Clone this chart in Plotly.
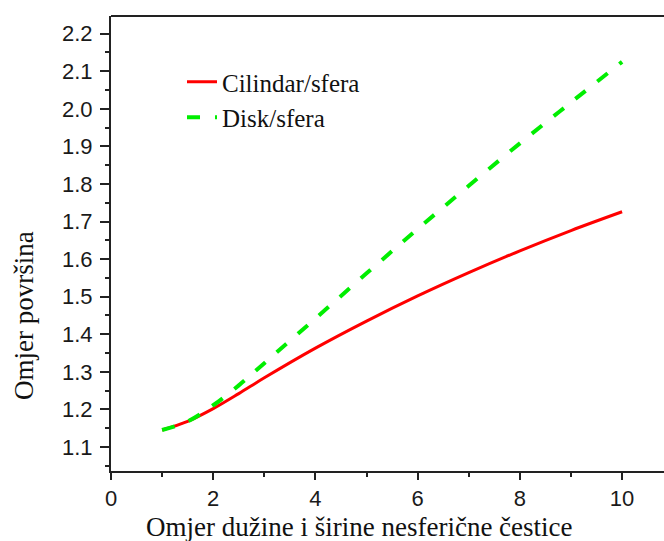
import plotly.graph_objects as go

# Aspect ratio (x) readings
x_vals = [1, 1.5, 2, 2.5, 3, 4, 5, 6, 7, 8, 9, 10]
# Cilindar/sfera surface ratio
cyl_vals = [1.145, 1.168, 1.202, 1.242, 1.284, 1.363, 1.435, 1.502, 1.564, 1.622, 1.676, 1.726]
# Disk/sfera surface ratio
disk_vals = [1.145, 1.168, 1.211, 1.264, 1.323, 1.442, 1.562, 1.680, 1.795, 1.908, 2.017, 2.125]

x_ticks = [0, 2, 4, 6, 8, 10]
y_ticks = [1.1, 1.2, 1.3, 1.4, 1.5, 1.6, 1.7, 1.8, 1.9, 2.0, 2.1, 2.2]

fig = go.Figure()
fig.add_trace(go.Scatter(x=x_vals, y=cyl_vals, mode="lines", name="Cilindar/sfera",
                         line=dict(color="#ff0000", width=3, shape="spline")))
fig.add_trace(go.Scatter(x=x_vals, y=disk_vals, mode="lines", name="Disk/sfera",
                         line=dict(color="#00ee00", width=4, dash="13px,15px", shape="spline")))

tick_font = dict(family="Liberation Sans, Arial, sans-serif", size=22, color="#1a1a1a")
serif = "Liberation Serif, Times New Roman, serif"

fig.update_layout(
    width=664, height=541,
    margin=dict(l=111, r=0, t=16, b=70),
    paper_bgcolor="white", plot_bgcolor="white",
    showlegend=True,
    legend=dict(x=(182 - 111) / 553, y=1 - (59 - 16) / 455, xanchor="left", yanchor="top",
                font=dict(family=serif, size=25, color="#111"),
                bgcolor="rgba(0,0,0,0)", tracegroupgap=0, itemwidth=30),
    xaxis=dict(range=[0, 10.82], tickvals=x_ticks, ticktext=[str(v) for v in x_ticks],
               ticks="outside", ticklen=7, tickwidth=1.5, tickcolor="#222",
               showline=True, linewidth=2, linecolor="#222", mirror=False,
               showgrid=False, zeroline=False, tickfont=tick_font,
               minor=dict(tickvals=[1, 3, 5, 7, 9], ticks="outside", ticklen=4,
                          tickwidth=1.5, tickcolor="#222", showgrid=False)),
    yaxis=dict(range=[1.036, 2.247], tickvals=y_ticks, ticktext=[f"{v:.1f}" for v in y_ticks],
               ticks="outside", ticklen=9, tickwidth=1.5, tickcolor="#222",
               showline=True, linewidth=2, linecolor="#222",
               showgrid=False, zeroline=False, tickfont=tick_font, ticklabelstandoff=3,
               minor=dict(tickvals=[round(1.05 + 0.1 * i, 2) for i in range(12)],
                          ticks="outside", ticklen=4, tickwidth=1.5, tickcolor="#222",
                          showgrid=False)),
    annotations=[
        dict(text="Omjer dužine i širine nesferične čestice", xref="paper", yref="paper",
             x=(359 - 111) / 553, y=-(527 - 471) / 455, xanchor="center", yanchor="middle",
             showarrow=False, font=dict(family=serif, size=27, color="#111")),
        dict(text="Omjer površina", xref="paper", yref="paper",
             x=-(111 - 24) / 553, y=1 - (316 - 16) / 455, xanchor="center", yanchor="middle",
             textangle=-90, showarrow=False, font=dict(family=serif, size=27, color="#111")),
    ],
    shapes=[dict(type="line", xref="paper", yref="paper", x0=0, x1=1, y0=1, y1=1,
                 line=dict(color="#222", width=2))],
)

fig.write_html("out.html")
